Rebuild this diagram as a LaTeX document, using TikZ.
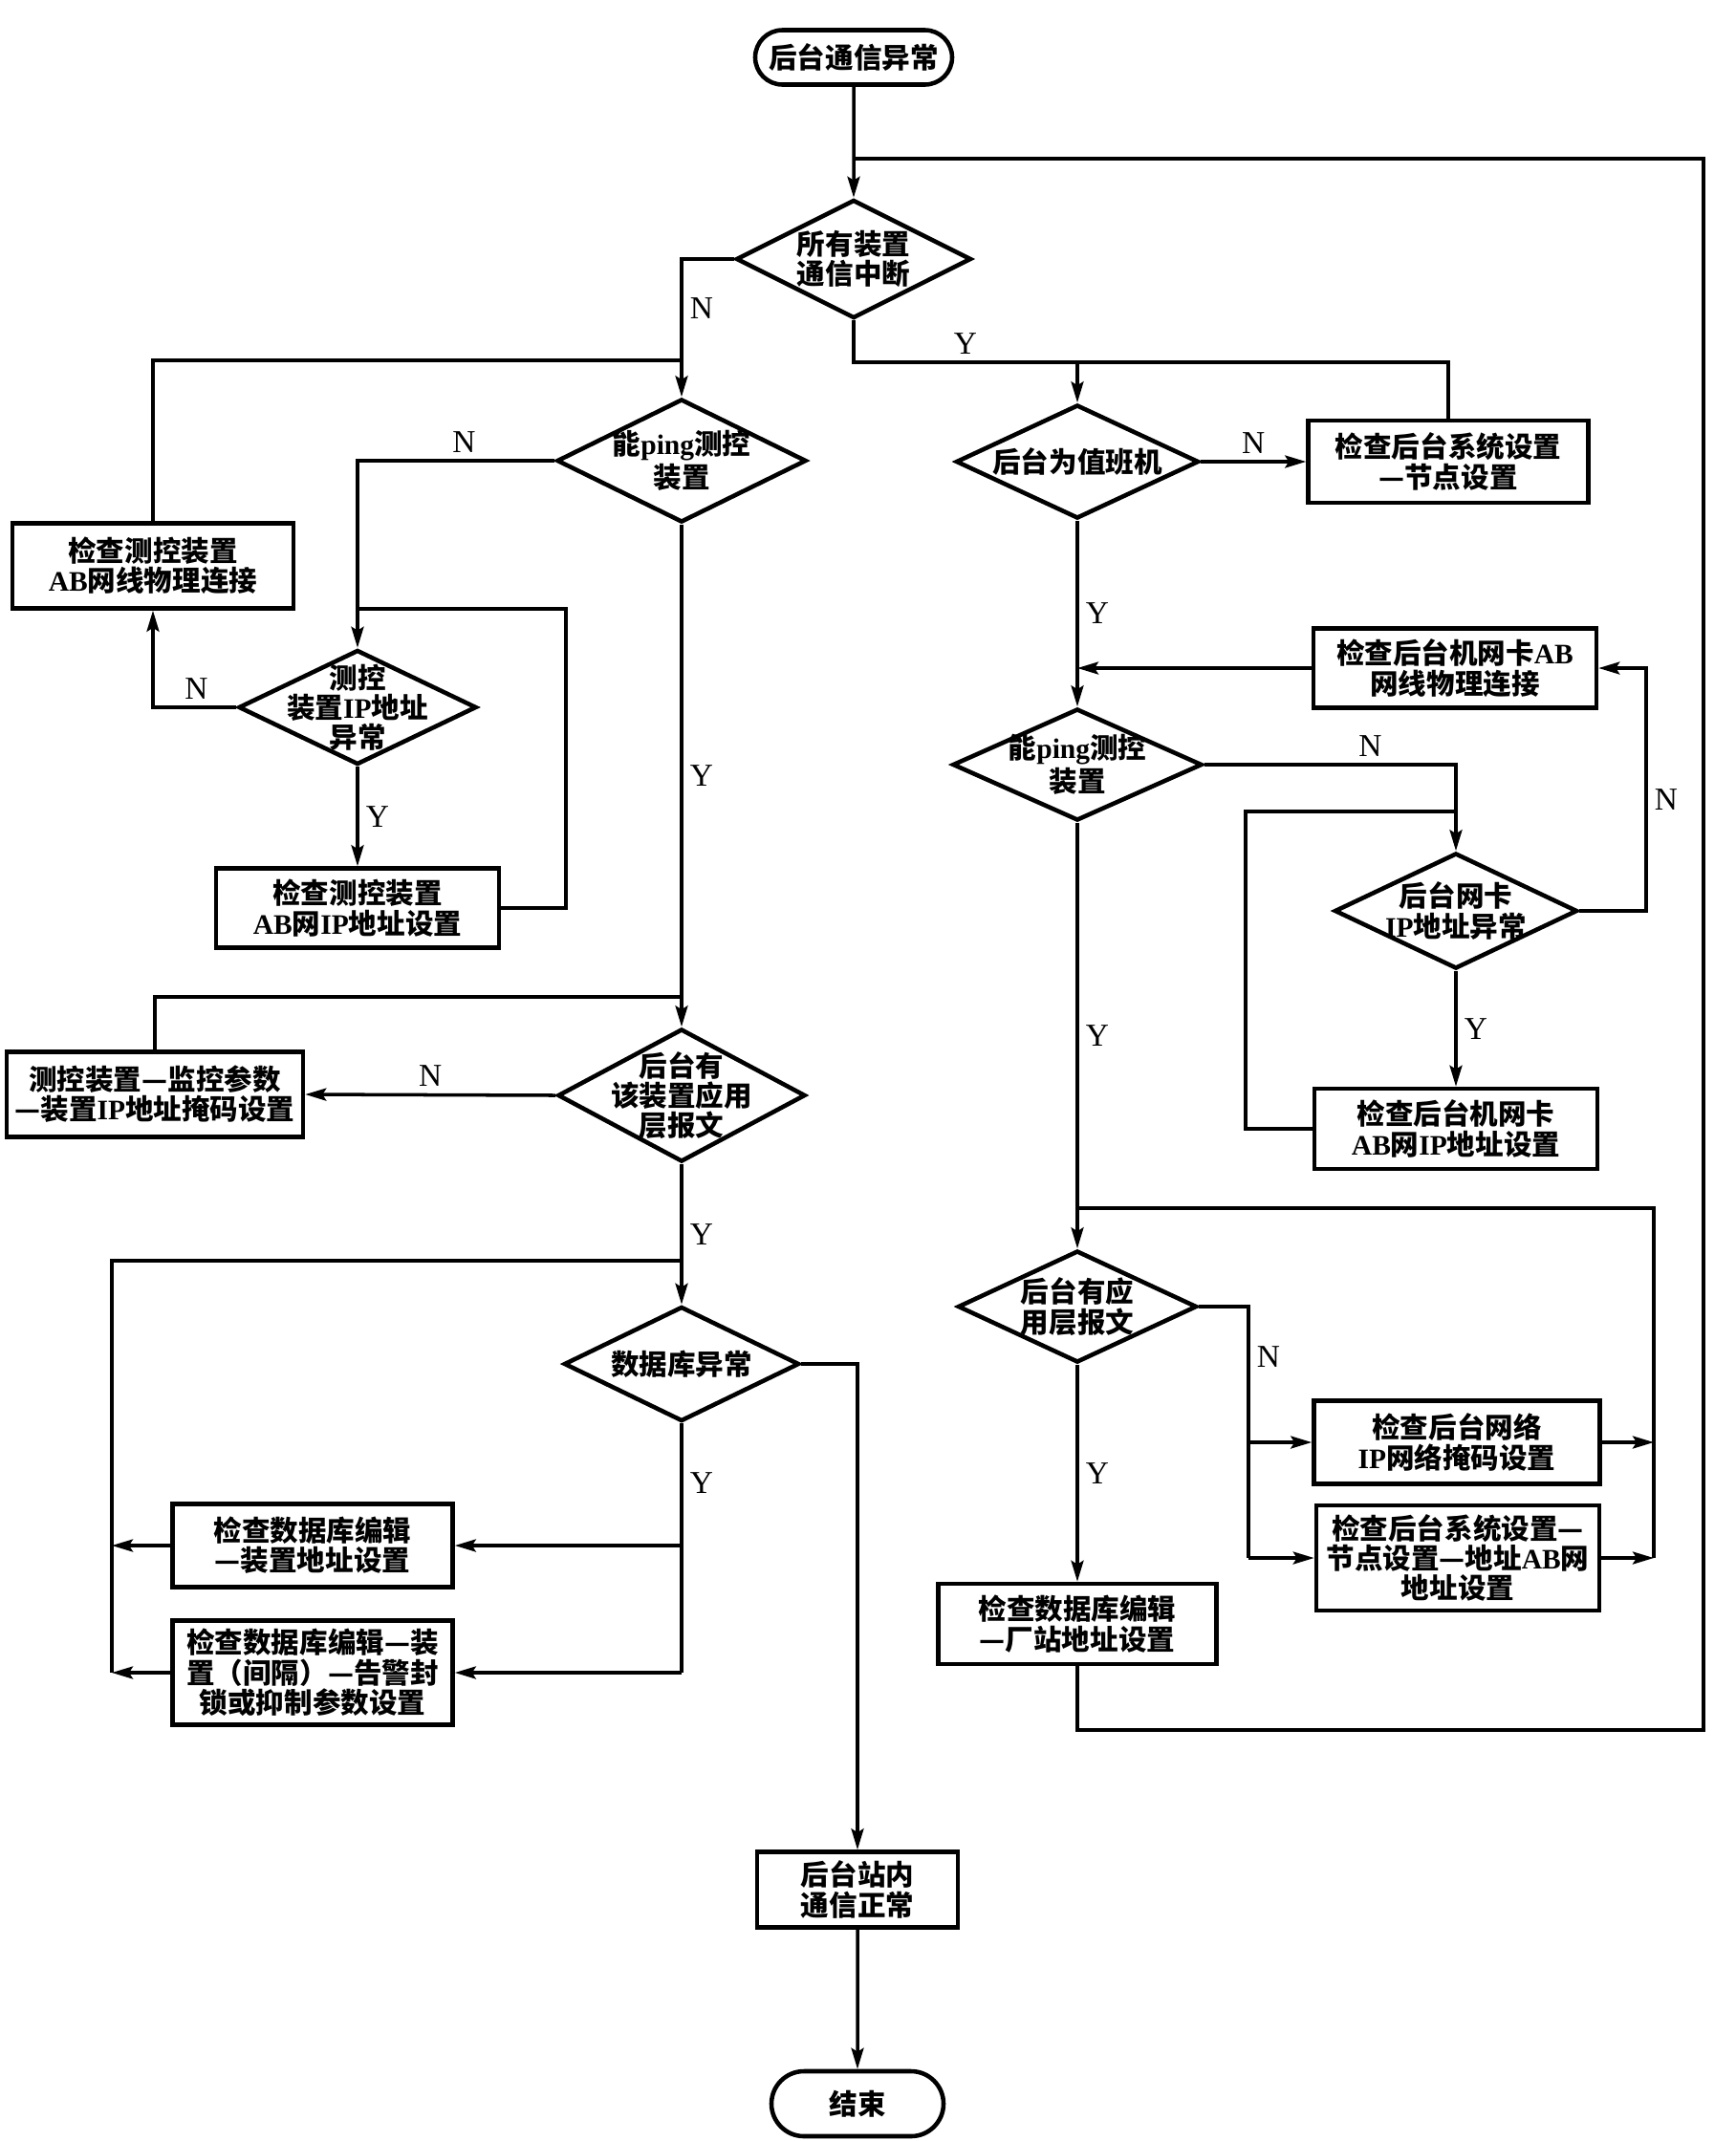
\documentclass[tikz,border=0pt]{standalone}
\usepackage{fontspec}
\setmainfont{Noto Sans CJK SC}
\newfontfamily\lat{Liberation Serif}
\newcommand{\en}[1]{{\lat\bfseries #1}}
\usetikzlibrary{shapes.geometric,shapes.misc,arrows.meta}

\begin{document}
\begin{tikzpicture}[x=1mm, y=-1mm, line width=1pt,
    >={Stealth[length=2.2mm,width=1.3mm,inset=0.4mm]},
    txt/.style = {font=\fontsize{8.4}{8.9}\selectfont\bfseries, align=center, inner sep=0pt},
    box/.style = {txt, draw, rectangle, line width=1.3pt},
    term/.style = {txt, draw, rounded rectangle, line width=1.3pt},
    dia/.style = {draw, diamond, line width=1.3pt, inner sep=0pt},
    yn/.style = {font=\lat\fontsize{9.5}{9.5}\selectfont, inner sep=2pt}]
    \useasboundingbox (0,0) rectangle (181.6,224);

    \node[term, minimum width=20.6mm, minimum height=5.7mm] (1) at (89.3,6.0) {后台通信异常};
    \node[dia, minimum width=24.6mm, minimum height=12.4mm, label={[txt]center:{所有装置\\通信中断}}] (2) at (89.3,27.1) {};

    % left branch
    \node[dia, minimum width=26.1mm, minimum height=12.9mm, label={[txt]center:{能\en{ping}测控\\装置}}] (3) at (71.3,48.2) {};
    \node[box, minimum width=29.4mm, minimum height=8.9mm] (4) at (16.0,59.2) {检查测控装置\\\en{AB}网线物理连接};
    \node[dia, minimum width=24.9mm, minimum height=12.0mm, label={[txt]center:{测控\\装置\en{IP}地址\\异常}}] (5) at (37.4,74.0) {};
    \node[box, minimum width=29.6mm, minimum height=8.3mm] (6) at (37.4,95.0) {检查测控装置\\\en{AB}网\en{IP}地址设置};
    \node[dia, minimum width=25.9mm, minimum height=13.9mm, label={[txt]center:{后台有\\该装置应用\\层报文}}] (7) at (71.3,114.6) {};
    \node[box, minimum width=31.0mm, minimum height=8.9mm] (8) at (16.2,114.5) {测控装置—监控参数\\—装置\en{IP}地址掩码设置};
    \node[dia, minimum width=24.6mm, minimum height=12.0mm, label={[txt]center:数据库异常}] (9) at (71.3,142.7) {};
    \node[box, minimum width=29.3mm, minimum height=8.7mm] (10) at (32.7,161.7) {检查数据库编辑\\—装置地址设置};
    \node[box, minimum width=29.3mm, minimum height=10.9mm] (11) at (32.7,175.0) {检查数据库编辑—装\\置（间隔）—告警封\\锁或抑制参数设置};

    % right branch
    \node[dia, minimum width=25.4mm, minimum height=11.9mm, label={[txt]center:后台为值班机}] (12) at (112.7,48.3) {};
    \node[box, minimum width=29.3mm, minimum height=8.6mm] (13) at (151.5,48.3) {检查后台系统设置\\—节点设置};
    \node[box, minimum width=29.6mm, minimum height=8.3mm] (14) at (152.2,69.9) {检查后台机网卡\en{AB}\\网线物理连接};
    \node[dia, minimum width=26.1mm, minimum height=11.7mm, label={[txt]center:{能\en{ping}测控\\装置}}] (15) at (112.7,80.0) {};
    \node[dia, minimum width=25.4mm, minimum height=12.1mm, label={[txt]center:{后台网卡\\\en{IP}地址异常}}] (16) at (152.3,95.3) {};
    \node[box, minimum width=29.6mm, minimum height=8.4mm] (17) at (152.3,118.1) {检查后台机网卡\\\en{AB}网\en{IP}地址设置};
    \node[dia, minimum width=25.0mm, minimum height=11.7mm, label={[txt]center:{后台有应\\用层报文}}] (18) at (112.7,136.7) {};
    \node[box, minimum width=29.9mm, minimum height=8.7mm] (19) at (152.4,150.9) {检查后台网络\\\en{IP}网络掩码设置};
    \node[box, minimum width=29.6mm, minimum height=11.0mm] (20) at (152.5,163.0) {检查后台系统设置—\\节点设置—地址\en{AB}网\\地址设置};
    \node[box, minimum width=29.1mm, minimum height=8.4mm] (21) at (112.7,169.9) {检查数据库编辑\\—厂站地址设置};

    \node[box, minimum width=21.0mm, minimum height=7.9mm] (22) at (89.7,197.7) {后台站内\\通信正常};
    \node[term, minimum width=18.0mm, minimum height=6.8mm] (23) at (89.7,220.1) {结束};

    \coordinate (j1) at (89.3,16.6);
    \coordinate (j2) at (112.7,37.9);
    \coordinate (j3) at (71.3,37.7);
    \coordinate (j4) at (37.4,63.7);
    \coordinate (j5) at (71.3,104.3);
    \coordinate (j6) at (71.3,131.9);
    \coordinate (j7) at (11.7,175.0);
    \coordinate (j8) at (71.3,175.0);
    \coordinate (j9) at (172.2,69.9);
    \coordinate (j10) at (152.3,84.9);
    \coordinate (j11) at (112.7,126.4);
    \coordinate (j12) at (173.0,163.0);
    \coordinate (j13) at (130.6,163.0);
    \coordinate (j14) at (178.2,16.6);

    \draw[->] (1) -- (2);
    \draw[->] (2.west) -| node[yn, pos=0.68, right] {N} (3.north);
    \draw[->] (2.south) |- node[yn, pos=0.75, above] {Y} (j2) -- (12.north);
    \draw (13.north) |- (j2);
    \draw[->] (12.east) -- node[yn, above] {N} (13.west);

    \draw (4.north) |- (j3);
    \draw[->] (3.west) -| node[yn, pos=0.23, above] {N} (5.north);
    \draw[->] (5.west) -| node[yn, pos=0.24, above] {N} (4.south);
    \draw[->] (5.south) -- node[yn, right] {Y} (6.north);
    \draw (6.east) -| (59.2,63.7) -- (j4);
    \draw[->] (3.south) -- node[yn, right] {Y} (7.north);
    \draw (8.north) |- (j5);
    \draw[->] (7.west) -- node[yn, above] {N} (8.east);
    \draw[->] (7.south) -- node[yn, right] {Y} (9.north);
    \draw (9.south) -- node[yn, pos=0.24, right] {Y} (j8);
    \draw[->] (9.south |- 10.east) -- (10.east);
    \draw[->] (j8) -- (11.east);
    \draw[->] (10.west) -- (10.west -| j7);
    \draw[->] (11.west) -- (j7);
    \draw (j7) |- (j6);
    \draw[->] (9.east) -| (22.north);
    \draw[->] (22) -- (23);

    \draw[->] (12.south) -- node[yn, right] {Y} (15.north);
    \draw[->] (14.west) -- (14.west -| 12.south);
    \draw[->] (15.east) -| node[yn, pos=0.33, above] {N} (16.north);
    \draw[->] (16.east) -| node[yn, pos=0.73, right] {N} (j9) -- (14.east);
    \draw[->] (16.south) -- node[yn, right] {Y} (17.north);
    \draw (17.west) -| (130.3,84.9) -- (j10);
    \draw[->] (15.south) -- node[yn, right] {Y} (18.north);
    \draw (j12) |- (j11);
    \draw (18.east) -| node[yn, pos=0.6, right] {N} (j13);
    \draw[->] (19.west -| j13) -- (19.west);
    \draw[->] (j13) -- (20.west);
    \draw[->] (19.east) -- (19.east -| j12);
    \draw[->] (20.east) -- (j12);
    \draw[->] (18.south) -- node[yn, right] {Y} (21.north);
    \draw (21.south) |- (178.2,181.0) -- (j14) -- (j1);
\end{tikzpicture}
\end{document}
